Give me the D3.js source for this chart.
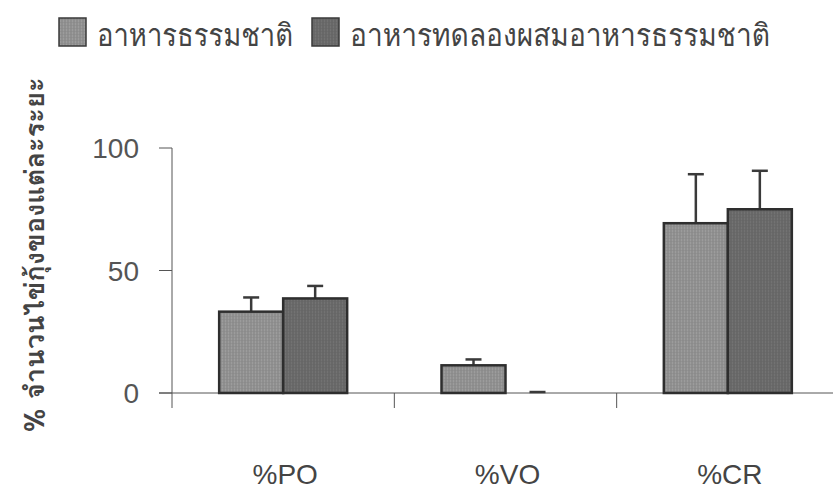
<!DOCTYPE html>
<html>
<head>
<meta charset="utf-8">
<script src="https://cdn.jsdelivr.net/npm/d3@7"></script>
<style>
  body { margin: 0; background: #fff; }
  svg { display: block; }
</style>
</head>
<body>
<svg id="chart"></svg>
<script>
// data
const categories = ['%PO', '%VO', '%CR'];
const seriesNames = ['อาหารธรรมชาติ', 'อาหารทดลองผสมอาหารธรรมชาติ'];
const naturalFood = [33.2, 11.3, 69.3];
const naturalFoodErr = [5.8, 2.4, 20.0];
const mixedFood = [38.6, 0, 75.0];
const mixedFoodErr = [5.1, 0.4, 15.7];
const yTicks = [0, 50, 100];

const width = 833, height = 492;
const y0 = 393, y100 = 148;

const svg = d3.select('#chart').attr('width', width).attr('height', height);

// fine scan-like texture for bars
const defs = svg.append('defs');
const fills = ['#8f8f8f', '#686868'];
fills.forEach((c, i) => {
  const p = defs.append('pattern')
    .attr('id', 'tex' + i)
    .attr('patternUnits', 'userSpaceOnUse')
    .attr('width', 3).attr('height', 3);
  p.append('rect').attr('width', 3).attr('height', 3).attr('fill', c);
  p.append('rect').attr('width', 1).attr('height', 3)
    .attr('fill', d3.color(c).brighter(0.25));
  p.append('rect').attr('y', 1).attr('width', 3).attr('height', 1)
    .attr('fill', d3.color(c).darker(0.15)).attr('opacity', 0.5);
});

const x = d3.scaleBand()
  .domain(categories)
  .range([172, 839])
  .padding(0);

const inner = 64;
const xs = d3.scaleBand()
  .domain([0, 1])
  .range([0, inner * 2]);

const y = d3.scaleLinear().domain([0, 100]).range([y0, y100]);

// y axis
svg.append('line')
  .attr('x1', 172).attr('x2', 172)
  .attr('y1', y(100)).attr('y2', 408)
  .attr('stroke', '#555').attr('stroke-width', 1);
svg.selectAll('.ytick').data(yTicks).enter().append('line')
  .attr('x1', 159).attr('x2', 172)
  .attr('y1', d => y(d)).attr('y2', d => y(d))
  .attr('stroke', '#555');
svg.selectAll('.ylab').data(yTicks).enter().append('text')
  .attr('x', 139).attr('y', d => y(d))
  .attr('dy', '0.36em')
  .attr('text-anchor', 'end')
  .attr('font-family', 'Liberation Sans, Arial, sans-serif')
  .attr('font-size', 28)
  .attr('fill', '#555')
  .text(d => d);

// x axis
svg.append('line')
  .attr('x1', 159).attr('x2', 833)
  .attr('y1', y0).attr('y2', y0)
  .attr('stroke', '#555');
svg.selectAll('.xtick').data(categories.slice(1)).enter().append('line')
  .attr('x1', d => x(d)).attr('x2', d => x(d))
  .attr('y1', y0).attr('y2', 408)
  .attr('stroke', '#555');
svg.selectAll('.xlab').data(categories).enter().append('text')
  .attr('x', d => x(d) + x.bandwidth() / 2 + 2)
  .attr('y', 484)
  .attr('text-anchor', 'middle')
  .attr('font-family', 'Liberation Sans, Arial, sans-serif')
  .attr('font-size', 28)
  .attr('fill', '#444')
  .text(d => d);

// bars
const rows = categories.map((c, i) => [
  { cat: c, s: 0, v: naturalFood[i], e: naturalFoodErr[i] },
  { cat: c, s: 1, v: mixedFood[i], e: mixedFoodErr[i] }
]).flat();

const bx = d => x(d.cat) + x.bandwidth() / 2 - inner + xs(d.s);

// error bars (drawn first so bar outline sits on top)
const eb = svg.selectAll('.err').data(rows).enter().append('g');
eb.append('line')
  .attr('x1', d => bx(d) + inner / 2).attr('x2', d => bx(d) + inner / 2)
  .attr('y1', d => y(d.v)).attr('y2', d => y(d.v + d.e))
  .attr('stroke', '#3a3a3a').attr('stroke-width', 2.5);
eb.append('line')
  .attr('x1', d => bx(d) + inner / 2 - 8).attr('x2', d => bx(d) + inner / 2 + 8)
  .attr('y1', d => y(d.v + d.e)).attr('y2', d => y(d.v + d.e))
  .attr('stroke', '#3a3a3a').attr('stroke-width', 2.5);

svg.selectAll('.bar').data(rows.filter(d => d.v > 0)).enter().append('rect')
  .attr('x', d => bx(d))
  .attr('y', d => y(d.v))
  .attr('width', xs.bandwidth())
  .attr('height', d => y0 - y(d.v))
  .attr('fill', d => 'url(#tex' + d.s + ')')
  .attr('stroke', '#2e2e2e')
  .attr('stroke-width', 2.5);

// legend
const legend = [
  { name: seriesNames[0], x: 59, w: 196 },
  { name: seriesNames[1], x: 312, w: 420 }
];
legend.forEach((l, i) => {
  svg.append('rect')
    .attr('x', l.x).attr('y', 18)
    .attr('width', 27).attr('height', 28)
    .attr('fill', 'url(#tex' + i + ')')
    .attr('stroke', '#3a3a3a').attr('stroke-width', 1.5);
  svg.append('text')
    .attr('x', l.x + 38).attr('y', 46)
    .attr('font-family', 'Loma, Garuda, "Noto Sans Thai", "DejaVu Sans", sans-serif')
    .attr('font-size', 31)
    .attr('fill', '#444')
    .attr('textLength', l.w)
    .attr('lengthAdjust', 'spacingAndGlyphs')
    .text(l.name);
});

// y axis title
svg.append('text')
  .attr('transform', 'translate(44,255) rotate(-90)')
  .attr('text-anchor', 'middle')
  .attr('font-family', 'Loma, Garuda, "Noto Sans Thai", "DejaVu Sans", sans-serif')
  .attr('font-size', 27)
  .attr('font-weight', 'bold')
  .attr('fill', '#444')
  .attr('textLength', 355)
  .attr('lengthAdjust', 'spacingAndGlyphs')
  .text('% จำนวนไข่กุ้งของแต่ละระยะ');
</script>
</body>
</html>
